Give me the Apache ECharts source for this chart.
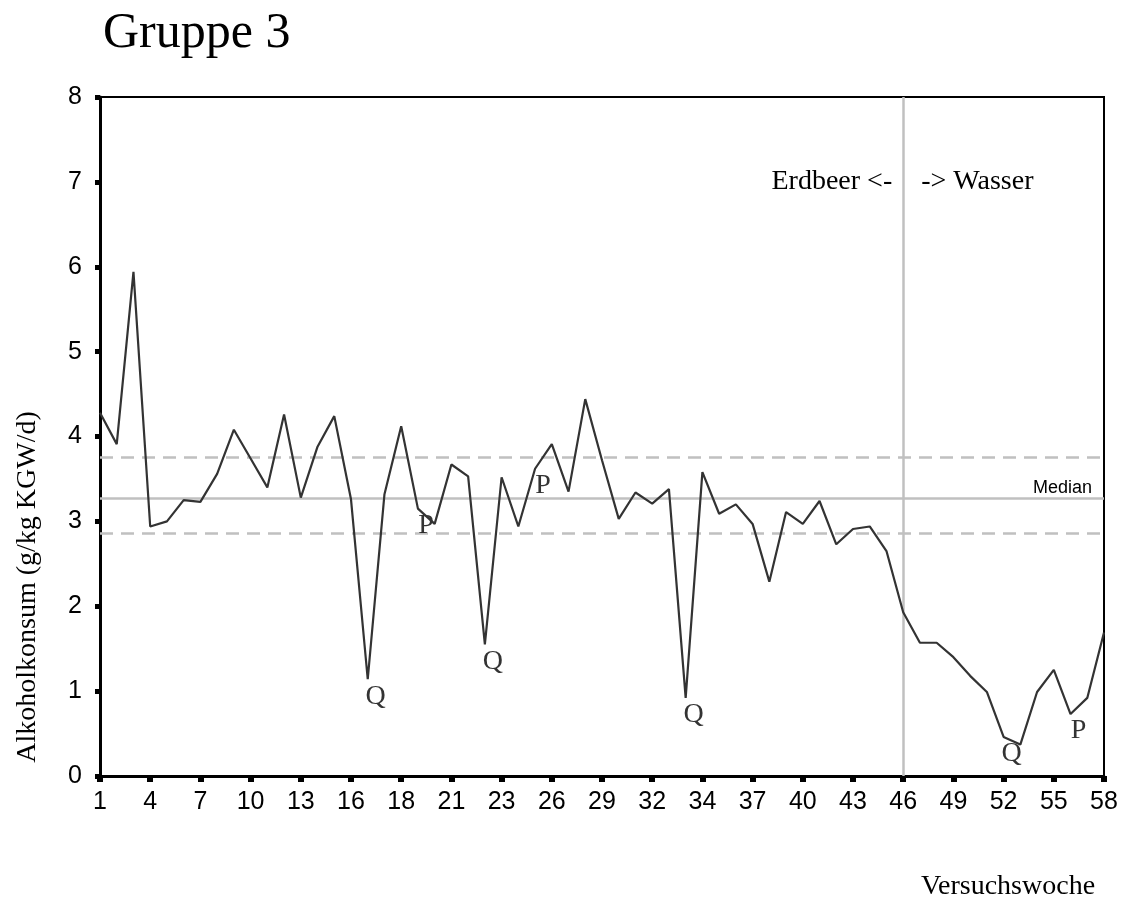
<!DOCTYPE html>
<html>
<head>
  <meta charset="utf-8">
  <title>Gruppe 3</title>
  <script src="https://cdn.jsdelivr.net/npm/echarts@6/dist/echarts.min.js"></script>
  <style>
    html, body { margin: 0; padding: 0; background: #fff; }
    #main { width: 1124px; height: 899px; }
  </style>
</head>
<body>

<div id="main"></div>

<script>
  // Achsenbeschriftung (jede dritte Messung)
  const tickLabels = ['1', '4', '7', '10', '13', '16', '18', '21', '23', '26', '29',
    '32', '34', '37', '40', '43', '46', '49', '52', '55', '58'];

  // Alkoholkonsum je Messung (g/kg KGW/d)
  const consumption = [
    4.28, 3.91, 5.94, 2.94, 3.00, 3.25, 3.23, 3.56, 4.08, 3.74,
    3.40, 4.26, 3.28, 3.88, 4.24, 3.26, 1.14, 3.32, 4.12, 3.15,
    2.97, 3.67, 3.53, 1.55, 3.52, 2.94, 3.62, 3.91, 3.35, 4.44,
    3.72, 3.03, 3.34, 3.21, 3.38, 0.92, 3.58, 3.09, 3.20, 2.97,
    2.29, 3.11, 2.97, 3.24, 2.73, 2.91, 2.94, 2.65, 1.93, 1.57,
    1.57, 1.40, 1.18, 0.99, 0.46, 0.37, 0.99, 1.25, 0.73, 0.92,
    1.69
  ];

  const median = 3.27;
  const bandUpper = 3.76;
  const bandLower = 2.86;
  const switchIndex = 48; // Erdbeer -> Wasser

  const markIndex = [16, 19, 23, 26, 35, 54, 58];
  const markText = ['Q', 'P', 'Q', 'P', 'Q', 'Q', 'P'];

  const categories = consumption.map(function (v, i) {
    return i % 3 === 0 ? tickLabels[i / 3] : String(i);
  });

  const serif = '"Liberation Serif", "Times New Roman", serif';
  const sans = '"Liberation Sans", Arial, sans-serif';
  const grey = '#c0c0c0';

  var myChart = echarts.init(document.getElementById('main'));

  var option = {
    animation: false,
    backgroundColor: '#fff',
    title: {
      text: 'Gruppe 3',
      left: 98,
      top: 4,
      textStyle: { fontFamily: serif, fontSize: 50, fontWeight: 'normal', color: '#000' }
    },
    grid: {
      left: 100,
      right: 20,
      top: 97,
      bottom: 123,
      show: true,
      borderColor: '#000',
      borderWidth: 2
    },
    xAxis: {
      type: 'category',
      data: categories,
      boundaryGap: false,
      axisLine: { lineStyle: { color: '#000', width: 3 } },
      axisTick: { interval: 2, length: 6, lineStyle: { color: '#000', width: 6 } },
      axisLabel: {
        interval: 2,
        margin: 14,
        fontFamily: sans,
        fontSize: 25,
        color: '#000',
        formatter: function (v, i) { return tickLabels[i / 3]; }
      },
      splitLine: { show: false }
    },
    yAxis: {
      type: 'value',
      min: 0,
      max: 8,
      interval: 1,
      axisLine: { show: true, lineStyle: { color: '#000', width: 3 } },
      axisTick: { show: true, length: 5, lineStyle: { color: '#000', width: 5 } },
      axisLabel: { margin: 18, fontFamily: sans, fontSize: 25, color: '#000' },
      splitLine: { show: false }
    },
    graphic: [
      {
        type: 'text',
        x: 28,
        y: 587,
        rotation: Math.PI / 2,
        style: {
          text: 'Alkoholkonsum (g/kg KGW/d)',
          font: '28px ' + serif,
          fill: '#000',
          align: 'center',
          verticalAlign: 'middle'
        }
      },
      {
        type: 'text',
        x: 1008,
        y: 887,
        style: {
          text: 'Versuchswoche',
          font: '28px ' + serif,
          fill: '#000',
          align: 'center',
          verticalAlign: 'middle'
        }
      }
    ],
    series: [
      {
        type: 'line',
        data: consumption,
        symbol: 'none',
        lineStyle: { color: '#333', width: 2.2 },
        z: 3,
        markLine: {
          silent: true,
          symbol: 'none',
          z: 2,
          data: [
            {
              yAxis: median,
              lineStyle: { color: grey, width: 2.5, type: 'solid' },
              label: {
                show: true,
                position: 'insideEndTop',
                formatter: 'Median',
                fontFamily: sans,
                fontSize: 18,
                color: '#000',
                distance: [12, 1]
              }
            },
            { yAxis: bandUpper, lineStyle: { color: grey, width: 2.5, type: [13, 8] }, label: { show: false } },
            { yAxis: bandLower, lineStyle: { color: grey, width: 2.5, type: [13, 8] }, label: { show: false } },
            { xAxis: switchIndex, lineStyle: { color: grey, width: 2.5, type: 'solid' }, label: { show: false } }
          ]
        },
        markPoint: {
          silent: true,
          symbol: 'circle',
          symbolSize: 0,
          data: [
            {
              coord: [switchIndex, 7],
              label: {
                show: true,
                formatter: 'Erdbeer <-',
                position: 'left',
                distance: 11,
                fontFamily: serif,
                fontSize: 28,
                color: '#000'
              }
            },
            {
              coord: [switchIndex, 7],
              label: {
                show: true,
                formatter: '-> Wasser',
                position: 'right',
                distance: 18,
                fontFamily: serif,
                fontSize: 28,
                color: '#000'
              }
            }
          ]
        }
      },
      {
        type: 'scatter',
        symbolSize: 0,
        silent: true,
        data: markIndex.map(function (i, k) {
          return { value: [i, consumption[i]], name: markText[k] };
        }),
        label: {
          show: true,
          position: 'bottom',
          distance: 3,
          offset: [8, 0],
          formatter: function (p) { return p.name; },
          fontFamily: serif,
          fontSize: 28,
          color: '#000'
        }
      }
    ]
  };

  myChart.setOption(option);
</script>
</body>
</html>
